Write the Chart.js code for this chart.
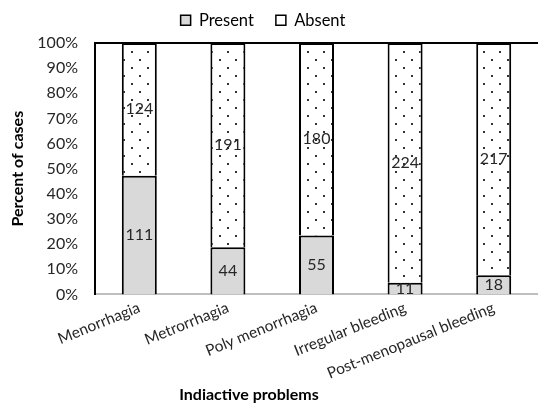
<!DOCTYPE html>
<html>
<head>
<meta charset="utf-8">
<script src="https://cdn.jsdelivr.net/npm/chart.js@4/dist/chart.umd.min.js"></script>
<style>
  html, body { margin: 0; padding: 0; background: #ffffff; overflow: hidden; }
  canvas { display: block; }
</style>
</head>
<body>
<canvas id="c" width="538" height="404"></canvas>
<script>
// ---- data ----
const categories = ['Menorrhagia', 'Metrorrhagia', 'Poly menorrhagia', 'Irregular bleeding', 'Post-menopausal bleeding'];
const seriesNames = ['Present', 'Absent'];
const presentCounts = [111, 44, 55, 11, 18];
const absentCounts = [124, 191, 180, 224, 217];
const yTickValues = [0, 10, 20, 30, 40, 50, 60, 70, 80, 90, 100];
const yAxisTitle = 'Percent of cases';
const xAxisTitle = 'Indiactive problems';

// 100% stacked: share of each category total
const totals = categories.map((_, i) => presentCounts[i] + absentCounts[i]);
const presentPct = presentCounts.map((v, i) => v / totals[i] * 100);
const absentPct = absentCounts.map((v, i) => v / totals[i] * 100);

Chart.defaults.font.family = 'Lato, "Liberation Sans", sans-serif';
Chart.defaults.color = '#262626';

const canvas = document.getElementById('c');
const ctx0 = canvas.getContext('2d');

function dotPattern() {
  const p = document.createElement('canvas');
  p.width = 16; p.height = 16;
  const g = p.getContext('2d');
  g.fillStyle = '#ffffff';
  g.fillRect(0, 0, 16, 16);
  g.fillStyle = '#333333';
  g.fillRect(3, 3, 2, 2);
  g.fillRect(11, 11, 2, 2);
  return ctx0.createPattern(p, 'repeat');
}

const valueLabels = {
  id: 'valueLabels',
  afterDatasetsDraw(chart) {
    const ctx = chart.ctx;
    const sources = [presentCounts, absentCounts];
    ctx.save();
    ctx.font = '16px Lato, "Liberation Sans", sans-serif';
    ctx.fillStyle = '#262626';
    ctx.textAlign = 'center';
    ctx.textBaseline = 'middle';
    chart.data.datasets.forEach((ds, di) => {
      chart.getDatasetMeta(di).data.forEach((el, i) => {
        ctx.fillText(String(sources[di][i]), el.x, (el.y + el.base) / 2);
      });
    });
    ctx.restore();
  }
};

const shiftBlocks = {
  id: 'shiftBlocks',
  afterLayout(chart) {
    if (chart.legend) { chart.legend.left -= 6; chart.legend.right -= 6; chart.legend.top -= 10; }
    if (chart.titleBlock) { chart.titleBlock.left -= 20; chart.titleBlock.right -= 20; }
  }
};

const tickFont = { size: 15.5 };

new Chart(canvas, {
  type: 'bar',
  data: {
    labels: categories,
    datasets: [
      {
        label: seriesNames[0],
        data: presentPct,
        backgroundColor: '#D9D9D9',
        borderColor: '#000000',
        borderWidth: 2,
        categoryPercentage: 1,
        barPercentage: 0.395
      },
      {
        label: seriesNames[1],
        data: absentPct,
        backgroundColor: dotPattern(),
        borderColor: '#000000',
        borderWidth: 2,
        categoryPercentage: 1,
        barPercentage: 0.395
      }
    ]
  },
  options: {
    responsive: false,
    animation: false,
    devicePixelRatio: 1,
    layout: { padding: 0 },
    plugins: {
      legend: {
        position: 'top',
        maxHeight: 37,
        labels: {
          boxWidth: 10,
          boxHeight: 10,
          padding: 22,
          font: { size: 16.5 },
          color: '#262626',
          generateLabels(chart) {
            return chart.data.datasets.map((ds, i) => ({
              text: ds.label,
              fillStyle: i === 0 ? '#D9D9D9' : '#ffffff',
              strokeStyle: '#000000',
              lineWidth: 1.5,
              hidden: false,
              datasetIndex: i
            }));
          }
        }
      },
      title: {
        display: true,
        position: 'bottom',
        text: xAxisTitle,
        font: { size: 16, weight: 'bold', lineHeight: 1.1 },
        color: '#000000',
        padding: { top: 0, bottom: 0 }
      },
      tooltip: { enabled: false }
    },
    scales: {
      x: {
        stacked: true,
        grid: { display: false, drawTicks: false },
        border: { display: true, color: '#BFBFBF', width: 2 },
        ticks: { font: tickFont, color: '#262626', minRotation: 22, maxRotation: 22, padding: 4, autoSkip: false },
        afterFit(s) { s.height = 92; }
      },
      x2: {
        position: 'top',
        grid: { display: false, drawTicks: false },
        border: { display: true, color: '#000000', width: 2 },
        ticks: { display: false },
        afterFit(s) { s.height = 6; }
      },
      y: {
        stacked: true,
        min: 0,
        max: 100,
        grid: { display: false, drawTicks: false },
        border: { display: true, color: '#000000', width: 2 },
        ticks: { font: { size: 16 }, color: '#262626', padding: 17, callback: v => v + '%' },
        afterBuildTicks(s) { s.ticks = yTickValues.map(v => ({ value: v })); },
        title: {
          display: true,
          text: yAxisTitle,
          font: { size: 16, weight: 'bold' },
          color: '#000000',
          padding: { top: 8, bottom: 0 }
        },
        afterFit(s) { s.width = 95; }
      }
    }
  },
  plugins: [valueLabels, shiftBlocks]
});
</script>
</body>
</html>
